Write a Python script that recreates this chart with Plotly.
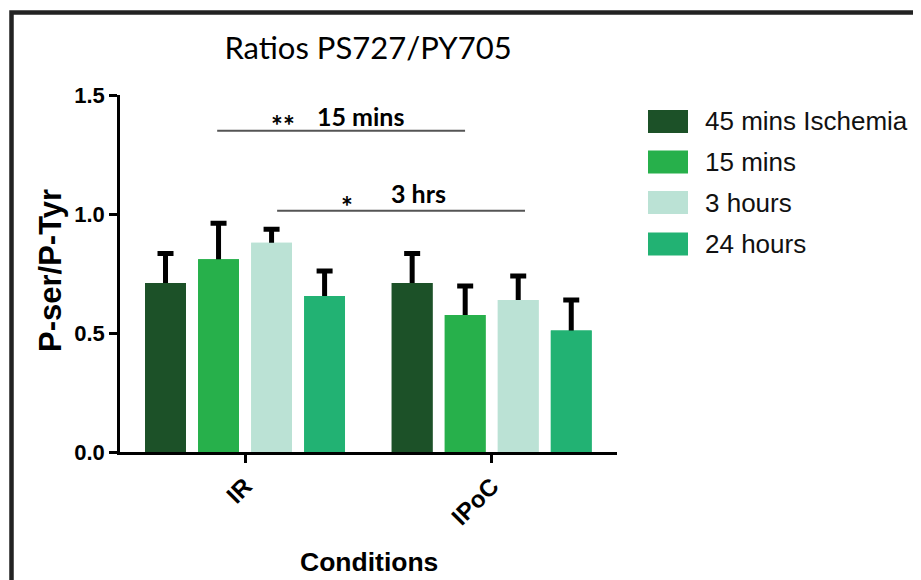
import plotly.graph_objects as go

# ---- data ----
categories = ["IR", "IPoC"]
cat_pos = [0, 1]
series_names = ["45 mins Ischemia", "15 mins", "3 hours", "24 hours"]
values = {
    "45 mins Ischemia": [0.71, 0.71],
    "15 mins": [0.81, 0.576],
    "3 hours": [0.879, 0.639],
    "24 hours": [0.655, 0.51],
}
errors = {
    "45 mins Ischemia": [0.124, 0.124],
    "15 mins": [0.151, 0.121],
    "3 hours": [0.057, 0.10],
    "24 hours": [0.105, 0.129],
}
colors = ["#1c5128", "#27b04b", "#bbe2d5", "#22b273"]
y_ticks = [0.0, 0.5, 1.0, 1.5]
y_tick_text = ["0.0", "0.5", "1.0", "1.5"]
x_title = "Conditions"
y_title = "P-ser/P-Tyr"
chart_title = "Ratios PS727/PY705"

fig = go.Figure()

# bars with error bars (symmetric), then identical bars on top to hide the lower half
for i, name in enumerate(series_names):
    fig.add_trace(go.Bar(
        x=cat_pos, y=values[name], name=name, offsetgroup=str(i),
        marker=dict(color=colors[i], line=dict(width=0)),
        error_y=dict(type="data", array=errors[name], visible=True,
                     color="black", thickness=5, width=8),
        showlegend=False,
    ))
for i, name in enumerate(series_names):
    fig.add_trace(go.Bar(
        x=cat_pos, y=values[name], name=name, offsetgroup=str(i),
        marker=dict(color=colors[i], line=dict(width=0)),
        showlegend=False, hoverinfo="skip",
    ))

OFF = 8  # page body margin
W, H = 921 - OFF, 580 - OFF
ML, MT = 120 - OFF, 95 - OFF
PLOT_R, PLOT_B = 617 - OFF, 452 - OFF
MR, MB = W - PLOT_R, H - PLOT_B
PW, PH = W - ML - MR, H - MT - MB

def px_x(p):  # p: pixel in reference screenshot
    return (p - OFF - ML) / PW

def px_y(p):
    return (PLOT_B - (p - OFF)) / PH

shapes = []
annotations = []

# outer frame
shapes.append(dict(type="rect", xref="paper", yref="paper",
                   x0=px_x(11.5), x1=px_x(1000), y0=px_y(700), y1=px_y(12.5),
                   line=dict(color="#222222", width=4.5), fillcolor="rgba(0,0,0,0)",
                   layer="above"))

# significance lines
sig_lines = [(-0.113, 0.892, 1.35), (0.13, 1.135, 1.014)]
for x0, x1, yv in sig_lines:
    shapes.append(dict(type="line", xref="x", yref="y", x0=x0, x1=x1, y0=yv, y1=yv,
                       line=dict(color="#555555", width=2)))

sig_font = dict(family="Lato, Open Sans, sans-serif", size=25, color="black")
ast_font = dict(family="Lato, Open Sans, sans-serif", size=28, color="black")
annotations += [
    dict(x=0.154, y=1.375, xref="x", yref="y", text="<b>**</b>", showarrow=False,
         font=ast_font, yanchor="middle"),
    dict(x=0.47, y=1.41, xref="x", yref="y", text="<b>15 mins</b>", showarrow=False,
         font=sig_font, yanchor="middle"),
    dict(x=0.413, y=1.035, xref="x", yref="y", text="<b>*</b>", showarrow=False,
         font=ast_font, yanchor="middle"),
    dict(x=0.705, y=1.09, xref="x", yref="y", text="<b>3 hrs</b>", showarrow=False,
         font=sig_font, yanchor="middle"),
]

# axis titles
annotations.append(dict(x=px_x(369), y=px_y(562), xref="paper", yref="paper",
                        text="<b>%s</b>" % x_title, showarrow=False,
                        xanchor="center", yanchor="middle",
                        font=dict(family="Arial, Liberation Sans, sans-serif", size=26.5,
                                  color="black")))
annotations.append(dict(x=px_x(50), y=px_y(271), xref="paper", yref="paper",
                        text="<b>%s</b>" % y_title, showarrow=False, textangle=-90,
                        xanchor="center", yanchor="middle",
                        font=dict(family="Arial, Liberation Sans, sans-serif", size=31,
                                  color="black")))

# custom legend
leg_centers = [121.5, 162, 202.5, 244]
for i, name in enumerate(series_names):
    cy = leg_centers[i]
    shapes.append(dict(type="rect", xref="paper", yref="paper",
                       x0=px_x(648), x1=px_x(688), y0=px_y(cy + 11.5), y1=px_y(cy - 11.5),
                       fillcolor=colors[i], line=dict(width=0)))
    annotations.append(dict(x=px_x(703), y=px_y(cy), xref="paper", yref="paper",
                            text=name, showarrow=False, xanchor="left", yanchor="middle",
                            font=dict(family="Arial, Liberation Sans, sans-serif", size=26,
                                      color="#111111")))

fig.update_layout(
    width=W, height=H,
    margin=dict(l=ML, r=MR, t=MT, b=MB, autoexpand=False),
    paper_bgcolor="white", plot_bgcolor="white",
    barmode="group", bargap=0.14, bargroupgap=0.23,
    showlegend=False,
    title=dict(text=chart_title, x=px_x(368), xref="paper",
               y=1 - (48 - OFF) / H, yref="container", xanchor="center", yanchor="middle",
               font=dict(family="Lato, Open Sans, sans-serif", size=31, color="black")),
    shapes=shapes,
    annotations=annotations,
    font=dict(family="Arial, Liberation Sans, sans-serif", color="black"),
)

fig.update_xaxes(
    range=[-0.507, 1.508], tickvals=cat_pos, ticktext=["<b>%s</b>" % c for c in categories],
    tickangle=-45, ticks="outside", ticklen=8, tickwidth=2.5, tickcolor="black",
    showline=True, linecolor="black", linewidth=2.5, showgrid=False, zeroline=False,
    automargin=False,
    tickfont=dict(family="Arial, Liberation Sans, sans-serif", size=24, color="black"),
)
fig.update_yaxes(
    range=[0, 1.5], tickvals=y_ticks, ticktext=["<b>%s</b>" % t for t in y_tick_text],
    ticks="outside", ticklen=8, tickwidth=2.5, tickcolor="black",
    showline=True, linecolor="black", linewidth=2.5, showgrid=False, zeroline=False,
    automargin=False,
    tickfont=dict(family="Arial, Liberation Sans, sans-serif", size=22, color="black"),
)

fig.write_html("out.html")
